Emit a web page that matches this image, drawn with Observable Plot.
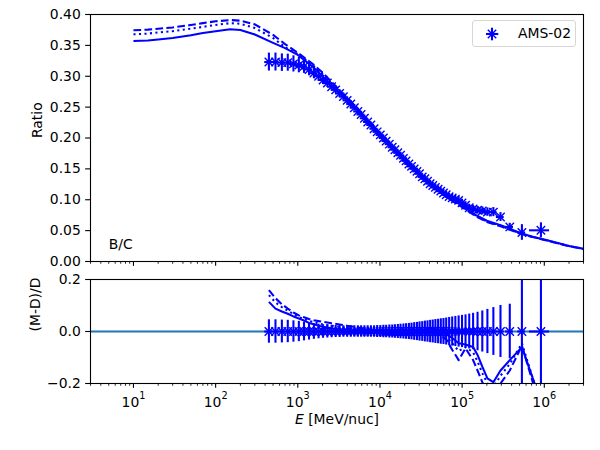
<!DOCTYPE html>
<html>
<head>
<meta charset="utf-8">
<script src="https://cdn.jsdelivr.net/npm/d3@7"></script>
<script src="https://cdn.jsdelivr.net/npm/@observablehq/plot@0.6"></script>
<style>
  body { margin: 0; background: #fff; }
  #fig { position: relative; width: 600px; height: 450px; font-family: "DejaVu Sans"; background: #fff; }
  #fig svg { display: block; }
  .legend { position: absolute; left: 472px; top: 20px; width: 104px; height: 27px; box-sizing: border-box;
            border: 1.2px solid #d6d6d6; border-radius: 3px; background: rgba(255,255,255,0.8); }
  .legend span { position: absolute; left: 45px; top: 4px; font-size: 13.9px; line-height: 17px; color: #000; }
  .legend svg { position: absolute; left: 0; top: 0; }
</style>
</head>
<body>
<div id="fig"></div>
<script>
// ---------------- data ----------------
const energy = [445, 535, 640, 755, 885, 1030, 1190, 1370, 1570, 1790, 2030, 2290, 2580, 2890, 3230, 3590, 3990, 4420, 4880, 5380,
  5900, 6470, 7090, 7760, 8480, 9250, 10100, 11000, 11900, 13000, 14100, 15200, 16500, 17800, 19300, 20800, 22500, 24200, 26100, 28200,
  30300, 32700, 35200, 37900, 40800, 43900, 47300, 51000, 55000, 59300, 64000, 69500, 75700, 82700, 90700, 99700, 110000, 122000, 136000, 154000,
  176000, 203000, 240000, 293000, 380000, 534000, 910000];
const ratio = [0.323, 0.323, 0.322, 0.322, 0.320, 0.318, 0.316, 0.311, 0.305, 0.300, 0.294, 0.289, 0.283, 0.278, 0.272, 0.267, 0.261, 0.255, 0.249, 0.243,
  0.238, 0.232, 0.226, 0.221, 0.215, 0.210, 0.205, 0.200, 0.195, 0.190, 0.185, 0.181, 0.176, 0.172, 0.167, 0.163, 0.158, 0.154, 0.150, 0.146,
  0.142, 0.137, 0.134, 0.130, 0.126, 0.123, 0.120, 0.117, 0.114, 0.111, 0.108, 0.105, 0.103, 0.101, 0.099, 0.095, 0.091, 0.087, 0.085, 0.083,
  0.082, 0.080, 0.080, 0.072, 0.056, 0.047, 0.0505];
const ratioRelErr = [0.045, 0.045, 0.044, 0.043, 0.041, 0.039, 0.036, 0.033, 0.030, 0.028, 0.026, 0.025, 0.024, 0.023, 0.023, 0.022, 0.022, 0.022, 0.022, 0.022,
  0.022, 0.022, 0.022, 0.022, 0.022, 0.023, 0.023, 0.024, 0.024, 0.025, 0.025, 0.026, 0.027, 0.028, 0.029, 0.030, 0.031, 0.032, 0.034, 0.035,
  0.037, 0.038, 0.040, 0.041, 0.043, 0.044, 0.046, 0.047, 0.049, 0.050, 0.052, 0.054, 0.056, 0.058, 0.060, 0.062, 0.064, 0.067, 0.070, 0.074,
  0.079, 0.085, 0.092, 0.100, 0.105, 0.270, 0.240];
const energyErrFrac = [0.11, 0.11, 0.11, 0.11, 0.11, 0.11, 0.11, 0.11, 0.11, 0.11, 0.11, 0.11, 0.11, 0.11, 0.11, 0.11, 0.11, 0.11, 0.11, 0.11,
  0.11, 0.11, 0.11, 0.11, 0.11, 0.11, 0.11, 0.11, 0.11, 0.11, 0.11, 0.11, 0.11, 0.11, 0.11, 0.11, 0.11, 0.11, 0.11, 0.11,
  0.11, 0.11, 0.11, 0.11, 0.11, 0.11, 0.11, 0.11, 0.11, 0.11, 0.11, 0.11, 0.11, 0.11, 0.11, 0.11, 0.11, 0.11, 0.11, 0.11,
  0.11, 0.11, 0.11, 0.11, 0.11, 0.11, 0.275];

const modelE = [10, 15, 20, 30, 50, 70, 100, 150, 200, 300, 500, 700, 1000, 1500, 2000, 3000, 5000, 7000, 10000, 15000,
  20000, 30000, 50000, 70000, 100000, 150000, 200000, 300000, 500000, 700000, 1000000, 1500000, 2000000, 3000000];
const modelSolid = [0.357, 0.358, 0.3595, 0.362, 0.3665, 0.370, 0.373, 0.376, 0.375, 0.3675, 0.354, 0.3455, 0.3345, 0.316, 0.300, 0.2765, 0.2487, 0.2263, 0.2034, 0.180,
  0.163, 0.143, 0.118, 0.1026, 0.0905, 0.0745, 0.066, 0.0585, 0.0465, 0.0405, 0.0355, 0.0295, 0.0252, 0.0206];
const modelDashed = [0.3745, 0.3755, 0.377, 0.379, 0.383, 0.386, 0.389, 0.391, 0.390, 0.384, 0.367, 0.352, 0.338, 0.3205, 0.306, 0.2817, 0.2522, 0.2293, 0.2056, 0.181,
  0.163, 0.142, 0.117, 0.101, 0.088, 0.0725, 0.064, 0.0565, 0.0455, 0.040, 0.035, 0.029, 0.0248, 0.0203];
const modelDotted = [0.368, 0.369, 0.371, 0.373, 0.377, 0.380, 0.383, 0.386, 0.385, 0.378, 0.362, 0.347, 0.336, 0.3187, 0.3033, 0.2795, 0.2505, 0.228, 0.2046, 0.1804,
  0.163, 0.1425, 0.1177, 0.1017, 0.0893, 0.0735, 0.065, 0.0575, 0.046, 0.0403, 0.0352, 0.0293, 0.025, 0.0205];

const resE = [445, 535, 640, 755, 885, 1030, 1190, 1370, 1570, 1790, 2030, 2580, 3230, 3990, 4880, 5900, 7090, 8480, 10100, 13000,
  16500, 20800, 26100, 32700, 40800, 51000, 64000, 75700, 90700, 110000, 136000, 154000, 176000, 203000, 240000, 293000, 380000, 534000, 910000];
const resSolid = [0.114, 0.088, 0.077, 0.068, 0.058, 0.050, 0.042, 0.033, 0.028, 0.022, 0.018, 0.012, 0.008, 0.005, 0.003, 0.000, -0.003, -0.005, -0.008, -0.010,
  -0.012, -0.008, -0.003, 0.005, 0.010, 0.005, -0.010, -0.025, -0.045, -0.050, -0.060, -0.090, -0.135, -0.180, -0.195, -0.150, -0.110, -0.060, -0.270];
const resDashed = [0.159, 0.128, 0.105, 0.088, 0.073, 0.062, 0.055, 0.048, 0.043, 0.040, 0.037, 0.032, 0.027, 0.022, 0.018, 0.013, 0.010, 0.006, 0.003, -0.002,
  -0.008, -0.010, -0.008, -0.002, 0.005, -0.010, -0.030, -0.070, -0.110, -0.065, -0.110, -0.150, -0.195, -0.230, -0.240, -0.200, -0.150, -0.055, -0.300];
const resDotted = [0.140, 0.112, 0.094, 0.080, 0.067, 0.056, 0.048, 0.041, 0.036, 0.031, 0.027, 0.022, 0.018, 0.014, 0.011, 0.007, 0.004, 0.001, -0.002, -0.006,
  -0.010, -0.009, -0.005, 0.002, 0.008, 0.000, -0.020, -0.045, -0.075, -0.060, -0.080, -0.115, -0.160, -0.200, -0.215, -0.170, -0.125, -0.045, -0.280];

const xDomain = [3, 3e6];
const xMajorTicks = [10, 100, 1000, 10000, 100000, 1000000];
const xTickLabels = ["10¹", "10²", "10³", "10⁴", "10⁵", "10⁶"];
const yTicksTop = [0, 0.05, 0.10, 0.15, 0.20, 0.25, 0.30, 0.35, 0.40];
const yTicksBottom = [-0.2, 0, 0.2];
const legendLabel = "AMS-02";
const panelLabel = {text: "B/C", E: 5, ratio: 0.02};
const yLabelTop = "Ratio";
const yLabelBottom = "(M-D)/D";
const xLabel = "E [MeV/nuc]";

// ---------------- derived tables ----------------
const xMinorTicks = [];
for (let k = 0; k <= 6; k++) for (let m = 2; m <= 9; m++) {
  const v = m * Math.pow(10, k);
  if (v >= xDomain[0] && v <= xDomain[1]) xMinorTicks.push(v);
}
const points = energy.map((E, i) => ({
  E, D: ratio[i], rel: ratioRelErr[i], zero: 0,
  lo: ratio[i] * (1 - ratioRelErr[i]), hi: ratio[i] * (1 + ratioRelErr[i]),
  elo: E * (1 - energyErrFrac[i]), ehi: E * (1 + energyErrFrac[i])
}));
const mk = (xs, ys) => xs.map((E, i) => ({E, v: ys[i]}));
const models = [
  {data: mk(modelE, modelSolid), dash: null},
  {data: mk(modelE, modelDashed), dash: "7.7,3.3"},
  {data: mk(modelE, modelDotted), dash: "2.1,3.4"}
];
const residuals = [
  {data: mk(resE, resSolid), dash: null},
  {data: mk(resE, resDashed), dash: "7.7,3.3"},
  {data: mk(resE, resDotted), dash: "2.1,3.4"}
];

const BLUE = "#0000ff";
const LW = 2.08;
const baseStyle = {fontFamily: "DejaVu Sans", fontSize: "13.9px", color: "black", background: "white"};
const lineMark = (m, clip) => Plot.line(m.data, {x: "E", y: "v", stroke: BLUE, strokeWidth: LW,
  strokeDasharray: m.dash || undefined, strokeLinecap: "butt", strokeLinejoin: "round", clip});
const xFmt = d => xTickLabels[xMajorTicks.indexOf(d)];

// ---------------- top panel ----------------
const topPlot = Plot.plot({
  width: 600, height: 270,
  marginLeft: 90, marginRight: 17, marginTop: 14, marginBottom: 9,
  style: baseStyle,
  x: {type: "log", domain: xDomain},
  y: {domain: [0, 0.4]},
  marks: [
    Plot.axisX({ticks: xMinorTicks, tickSize: 2.78, strokeWidth: 0.83, tickFormat: () => "", label: null}),
    Plot.axisX({ticks: xMajorTicks, tickSize: 4.86, strokeWidth: 1.1, tickFormat: () => "", label: null}),
    Plot.axisY({ticks: yTicksTop, tickSize: 4.86, tickPadding: 4.86, strokeWidth: 1.1, tickFormat: d3.format(".2f"), label: null}),
    ...models.map(m => lineMark(m, false)),
    Plot.ruleX(points, {x: "E", y1: "lo", y2: "hi", stroke: BLUE, strokeWidth: LW}),
    Plot.ruleY(points, {y: "D", x1: "elo", x2: "ehi", stroke: BLUE, strokeWidth: LW}),
    Plot.dot(points, {x: "E", y: "D", symbol: "times", r: 3.9, stroke: BLUE, strokeWidth: 1.4}),
    Plot.text([panelLabel], {x: "E", y: "ratio", text: "text", textAnchor: "start", lineAnchor: "middle", dy: -4.45, fill: "black"}),
    Plot.text([yLabelTop], {frameAnchor: "left", dx: -53, rotate: -90, text: d => d, fill: "black"}),
    Plot.frame({stroke: "black", strokeWidth: 1.1})
  ]
});

// ---------------- bottom panel ----------------
const bottomPlot = Plot.plot({
  width: 600, height: 180,
  marginLeft: 90, marginRight: 17, marginTop: 9, marginBottom: 67,
  style: baseStyle,
  x: {type: "log", domain: xDomain},
  y: {domain: [-0.2, 0.2]},
  marks: [
    Plot.axisX({ticks: xMinorTicks, tickSize: 2.78, strokeWidth: 0.83, tickFormat: () => "", label: null}),
    Plot.axisX({ticks: xMajorTicks, tickSize: 4.86, tickPadding: 8.6, strokeWidth: 1.1, tickFormat: xFmt, label: null}),
    Plot.axisY({ticks: yTicksBottom, tickSize: 4.86, tickPadding: 4.86, strokeWidth: 1.1, tickFormat: d3.format(".1f"), label: null}),
    Plot.ruleY([0], {stroke: "#1f77b4", strokeWidth: LW}),
    Plot.ruleX(points, {x: "E", y1: d => -d.rel, y2: d => d.rel, stroke: BLUE, strokeWidth: LW, clip: true}),
    Plot.ruleY(points, {y: "zero", x1: "elo", x2: "ehi", stroke: BLUE, strokeWidth: LW, clip: true}),
    Plot.dot(points, {x: "E", y: "zero", symbol: "times", r: 3.9, stroke: BLUE, strokeWidth: 1.4, clip: true}),
    ...residuals.map(m => lineMark(m, true)),
    Plot.text([yLabelBottom], {frameAnchor: "left", dx: -55, rotate: -90, text: d => d, fill: "black"}),
    Plot.text([xLabel], {frameAnchor: "bottom", dy: 40, text: d => d, fill: "black"}),
    Plot.frame({stroke: "black", strokeWidth: 1.1})
  ]
});

// superscript exponents like matplotlib mathtext; italic E in x label
const supMap = {"¹": "1", "²": "2", "³": "3", "⁴": "4", "⁵": "5", "⁶": "6"};
d3.select(bottomPlot).selectAll("text").each(function () {
  const t = this.textContent;
  const sel = d3.select(this);
  if (/^10[¹²³⁴⁵⁶]$/.test(t)) {
    sel.text(null);
    sel.append("tspan").text("10");
    sel.append("tspan").attr("font-size", "9.7px").attr("dy", "-7.7px").text(supMap[t[2]]);
  } else if (t === xLabel) {
    sel.text(null);
    sel.append("tspan").attr("font-style", "italic").text("E");
    sel.append("tspan").text(" [MeV/nuc]");
  }
});

const fig = document.getElementById("fig");
fig.appendChild(topPlot);
fig.appendChild(bottomPlot);

// legend (inside top axes, upper right)
const legend = document.createElement("div");
legend.className = "legend";
legend.innerHTML =
  '<svg width="40" height="27"><g stroke="' + BLUE + '" fill="none">' +
  '<line x1="13" y1="13" x2="25.3" y2="13" stroke-width="2.08"/>' +
  '<line x1="19" y1="6.7" x2="19" y2="19.3" stroke-width="2.08"/>' +
  '<path d="M14.8,8.8L23.2,17.2M14.8,17.2L23.2,8.8" stroke-width="1.4"/>' +
  '</g></svg><span></span>';
legend.querySelector("span").textContent = legendLabel;
fig.appendChild(legend);
</script>
</body>
</html>
